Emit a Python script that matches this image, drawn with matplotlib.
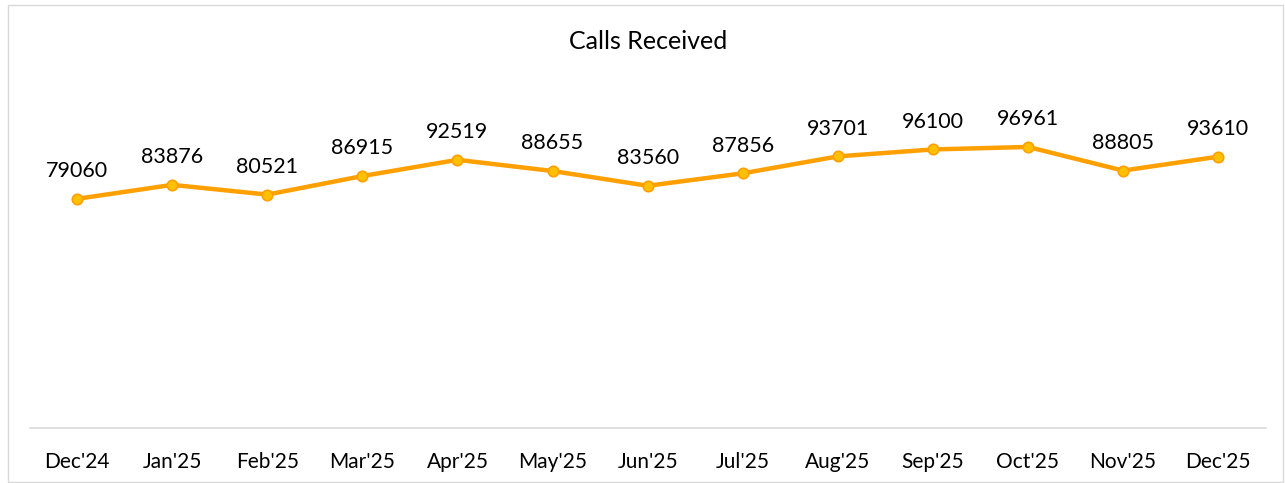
import matplotlib.pyplot as plt
from matplotlib.patches import Rectangle

# data
months = ["Dec'24", "Jan'25", "Feb'25", "Mar'25", "Apr'25", "May'25", "Jun'25",
          "Jul'25", "Aug'25", "Sep'25", "Oct'25", "Nov'25", "Dec'25"]
calls = [79060, 83876, 80521, 86915, 92519, 88655, 83560,
         87856, 93701, 96100, 96961, 88805, 93610]

plt.rcParams['font.family'] = ['Lato', 'DejaVu Sans']

fig = plt.figure(figsize=(12.85, 4.83), dpi=100)
ax = fig.add_axes([0.023, 0.114, 0.962, 0.72])

x = list(range(len(months)))
ax.plot(x, calls, color='#FFA000', linewidth=3.2, marker='o', markersize=7.5,
        markerfacecolor='#FFC000', markeredgecolor='#FFA000', markeredgewidth=1.2,
        solid_capstyle='round')

for xi, v in zip(x, calls):
    ax.annotate(str(v), (xi, v), xytext=(0, 20), textcoords='offset points',
                ha='center', va='center', fontsize=15.5, color='#000000')

ax.set_xlim(-0.5, len(months) - 0.5)
ax.set_ylim(0, 120000)
ax.set_xticks(x)
ax.set_xticklabels(months, fontsize=15)
ax.tick_params(axis='x', length=0, pad=17)
ax.set_yticks([])

for s in ['top', 'right', 'left']:
    ax.spines[s].set_visible(False)
ax.spines['bottom'].set_color('#D9D9D9')
ax.spines['bottom'].set_linewidth(1.2)

fig.text(0.504, 0.915, 'Calls Received', ha='center', va='center', fontsize=18)

# chart border
fig.patches.append(Rectangle((8 / 1285, 0.002), 1275 / 1285, 0.988,
                             transform=fig.transFigure, fill=False,
                             edgecolor='#D9D9D9', linewidth=1))

fig.savefig('out.png', dpi=100)
